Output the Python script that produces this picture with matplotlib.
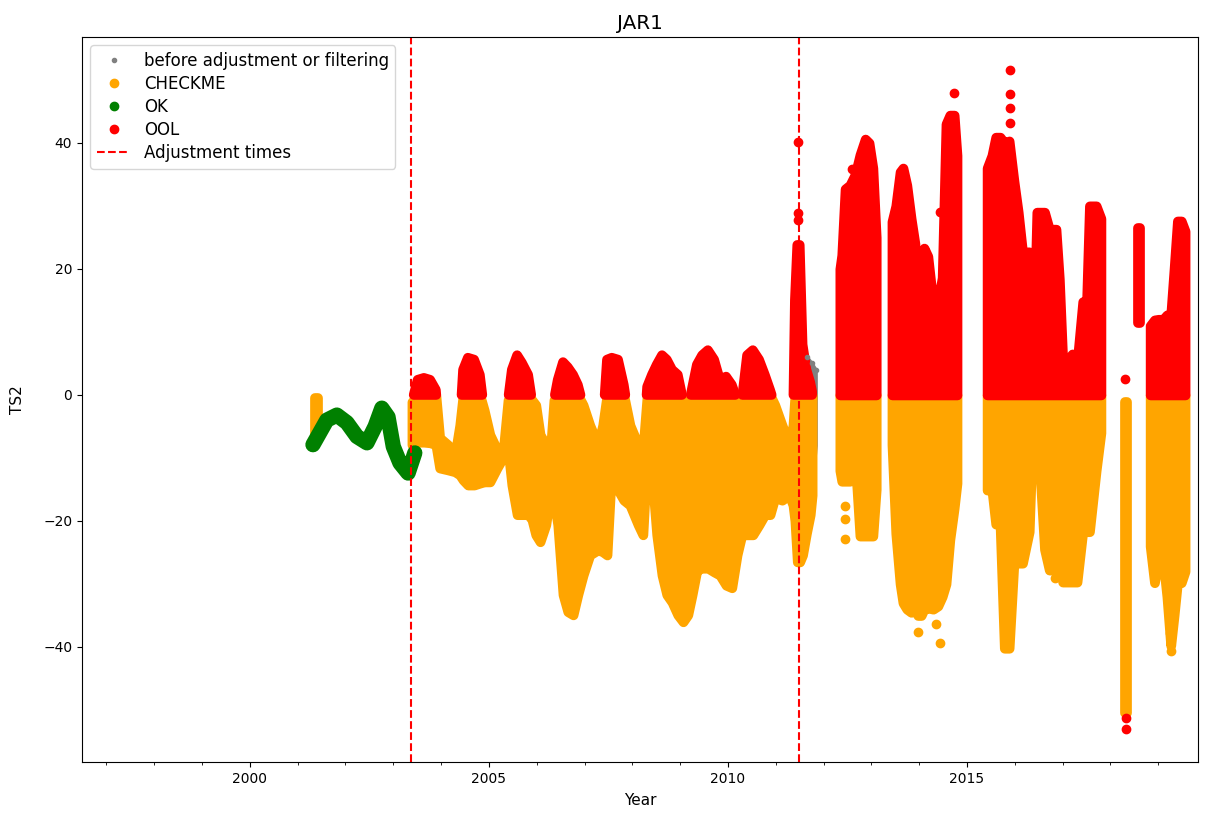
import numpy as np
import matplotlib.pyplot as plt
from matplotlib.ticker import MultipleLocator

# ---- values (decimal year, TS2) ----

# OK series (green), before first adjustment
green_year = [2001.32, 2001.61, 2001.82, 2002.03, 2002.24, 2002.45, 2002.62,
              2002.76, 2002.89, 2003.00, 2003.14, 2003.31, 2003.45]
green_val = [-7.9, -4.0, -3.2, -4.4, -6.6, -7.6, -5.0,
             -2.1, -3.5, -8.2, -10.8, -12.4, -9.2]

# envelopes of the dense clouds: (year, upper, lower); above 0 -> OOL, below -> CHECKME
b01_year = [2001.36, 2001.42]
b01_top = [-0.5, -0.5]
b01_bot = [-6.5, -6.5]

b03_year = [2003.39, 2003.51, 2003.64, 2003.77, 2003.89, 2003.97, 2004.14, 2004.29,
            2004.39, 2004.46, 2004.56, 2004.69, 2004.81, 2004.90, 2005.02, 2005.17,
            2005.29, 2005.40, 2005.48, 2005.59, 2005.69, 2005.82, 2005.90, 2005.98,
            2006.07, 2006.19, 2006.28, 2006.36, 2006.44, 2006.55, 2006.65, 2006.76,
            2006.86, 2006.97, 2007.11, 2007.28, 2007.38, 2007.47, 2007.57, 2007.70,
            2007.82, 2007.95, 2008.12, 2008.22, 2008.31, 2008.41, 2008.51, 2008.62,
            2008.72, 2008.83, 2008.95, 2009.06, 2009.16, 2009.25, 2009.35, 2009.46,
            2009.58, 2009.71, 2009.83, 2009.96, 2010.08, 2010.19, 2010.29, 2010.40,
            2010.52, 2010.65, 2010.77, 2010.88, 2010.98, 2011.13, 2011.28, 2011.36,
            2011.40, 2011.45, 2011.50, 2011.56, 2011.64, 2011.72, 2011.76]
b03_top = [-1.1, 2.4, 2.7, 2.4, 0.8, -6.8, -7.9, -9.5,
           -4.8, 4.0, 5.9, 5.6, 3.2, -2.4, -6.3, -8.7,
           -9.5, -0.8, 4.0, 6.3, 5.1, 3.2, -0.8, -1.6,
           -6.3, -7.9, -9.5, -0.8, 2.4, 5.2, 4.4, 3.2,
           1.6, -1.6, -4.8, -7.9, -4.8, 5.6, 5.9, 5.6,
           1.6, -4.8, -7.9, -8.7, 1.3, 3.2, 4.8, 6.3,
           5.6, 4.0, 3.2, -0.8, -2.4, 1.1, 4.8, 6.3,
           7.1, 5.6, 2.4, 2.9, 1.6, -0.8, -0.8, 6.3,
           7.1, 5.6, 3.2, 0.8, -1.6, -4.8, -7.9, -4.8,
           15.0, 23.8, 23.8, 8.0, 4.0, 2.0, 0.5]
b03_bot = [-7.9, -7.5, -7.5, -7.6, -7.9, -11.6, -11.9, -12.2,
           -12.7, -13.5, -14.3, -14.3, -14.0, -13.8, -13.8, -11.6,
           -10.0, -8.7, -14.3, -19.0, -19.0, -19.0, -19.8, -22.2,
           -23.3, -20.6, -15.9, -16.7, -20.6, -31.7, -34.4, -34.9,
           -31.7, -28.6, -25.4, -24.6, -24.9, -25.4, -11.1, -15.1,
           -16.7, -17.5, -20.6, -22.2, -9.5, -12.7, -22.2, -28.6,
           -31.7, -32.9, -34.9, -36.0, -34.9, -31.7, -27.8, -27.5,
           -27.5, -28.1, -28.6, -30.2, -30.6, -25.4, -22.2, -22.2,
           -22.2, -20.6, -19.0, -19.0, -16.3, -16.7, -15.9, -17.5,
           -20.0, -26.5, -26.5, -25.4, -22.0, -19.0, -15.9]

b12_year = [2012.34, 2012.38, 2012.45, 2012.55, 2012.66, 2012.76, 2012.87, 2012.95, 2013.03, 2013.10]
b12_top = [20.0, 22.2, 32.7, 33.3, 35.0, 38.1, 40.6, 40.0, 36.0, 25.0]
b12_bot = [-12.0, -13.7, -13.7, -13.7, -10.3, -22.4, -22.4, -22.4, -22.4, -15.0]

b13_year = [2013.43, 2013.51, 2013.60, 2013.66, 2013.74, 2013.83, 2013.91, 2013.97, 2014.04,
            2014.10, 2014.18, 2014.29, 2014.39, 2014.48, 2014.56, 2014.64, 2014.73, 2014.79]
b13_top = [27.5, 30.0, 35.4, 36.0, 33.3, 28.0, 24.0, 7.0, 7.0,
           23.3, 22.0, 14.5, 14.8, 18.6, 43.0, 44.4, 44.4, 38.0]
b13_bot = [-7.9, -22.0, -30.0, -33.0, -34.0, -34.5, -34.0, -35.0, -35.0,
           -34.0, -33.8, -34.0, -33.5, -32.0, -30.0, -23.0, -18.0, -14.0]

b15_year = [2015.42, 2015.52, 2015.60, 2015.69, 2015.78, 2015.88, 2015.98,
            2016.07, 2016.16, 2016.30, 2016.38, 2016.46, 2016.62, 2016.72, 2016.86, 2016.93,
            2017.00, 2017.12, 2017.20, 2017.30, 2017.42, 2017.50, 2017.56, 2017.70, 2017.80]
b15_top = [36.0, 38.0, 40.9, 40.9, 40.0, 40.3, 34.0,
           29.0, 22.7, 22.7, 5.0, 29.0, 29.0, 26.3, 26.3, 18.4,
           5.7, 5.7, 6.5, 5.0, 14.8, 14.8, 30.0, 30.0, 28.0]
b15_bot = [-15.1, -15.1, -20.5, -20.5, -40.2, -40.2, -26.7,
           -26.7, -26.7, -21.7, -4.0, -4.0, -24.5, -27.8, -27.8, -25.0,
           -29.7, -29.7, -29.7, -29.7, -21.7, -21.7, -21.7, -12.0, -6.0]

b18_year = [2018.31, 2018.35]
b18_top = [-1.2, -1.2]
b18_bot = [-50.5, -50.5]

b19_year = [2018.83, 2018.92, 2019.00, 2019.10, 2019.18, 2019.26, 2019.33, 2019.40, 2019.48, 2019.56]
b19_top = [11.0, 11.9, 12.0, 12.0, 12.7, 12.7, 20.0, 27.6, 27.6, 26.0]
b19_bot = [-24.0, -29.8, -26.3, -26.3, -32.0, -39.8, -35.0, -29.8, -29.8, -28.0]

# OOL run that floats above zero in 2018
float_year = [2018.57, 2018.61]
float_top = [26.5, 26.5]
float_bot = [11.4, 11.4]

# single points outside the clouds
red_pt_year = [2011.47, 2011.47, 2011.47, 2012.59, 2014.44, 2014.72,
               2015.89, 2015.89, 2015.89, 2015.89, 2018.31, 2018.33, 2018.33]
red_pt_val = [40.2, 28.8, 27.8, 35.9, 29.0, 47.9,
              51.5, 47.8, 45.6, 43.2, 2.6, -51.3, -53.0]
orange_pt_year = [2012.44, 2012.44, 2012.44, 2013.97, 2014.44, 2014.36, 2016.84, 2019.25, 2019.27]
orange_pt_val = [-17.6, -19.7, -22.9, -37.6, -39.4, -36.3, -29.0, -37.8, -40.6]

# raw values showing behind the 2011 adjustment
gray_year = [2011.66, 2011.76, 2011.84]
gray_top = [6.0, 5.0, 4.0]
gray_bot = [-17.0, -15.0, -8.0]

adjust_times = [2003.37, 2011.49]

blocks = [(b01_year, b01_top, b01_bot), (b03_year, b03_top, b03_bot),
          (b12_year, b12_top, b12_bot), (b13_year, b13_top, b13_bot),
          (b15_year, b15_top, b15_bot), (b18_year, b18_top, b18_bot),
          (b19_year, b19_top, b19_bot)]

fig, ax = plt.subplots(figsize=(12.08, 8.22), dpi=100)
fig.subplots_adjust(left=0.0679, right=0.9917, bottom=0.073, top=0.955)

# marker radius is reproduced by stroking the envelopes
cloud = dict(linewidth=7, joinstyle='round', capstyle='round')

ax.fill_between(gray_year, gray_bot, gray_top, color='gray', linewidth=2)
h_gray, = ax.plot(gray_year, gray_top, '.', color='gray', label='before adjustment or filtering')

for yr, top, bot in blocks:
    top = np.array(top)
    ax.fill_between(yr, bot, np.minimum(top, 0), color='orange', **cloud)
h_orange, = ax.plot(orange_pt_year, orange_pt_val, 'o', color='orange', label='CHECKME')

ax.plot(green_year, green_val, '-', color='green', lw=11,
        solid_capstyle='round', solid_joinstyle='round')
h_green, = ax.plot(green_year, green_val, 'o', color='green', label='OK')

for yr, top, bot in blocks:
    top = np.array(top)
    if (top > 0).any():
        ax.fill_between(yr, 0, top, where=top > 0, interpolate=True, color='red', **cloud)
ax.fill_between(float_year, float_bot, float_top, color='red', **cloud)
h_red, = ax.plot(red_pt_year, red_pt_val, 'o', color='red', label='OOL')

h_adj = ax.axvline(adjust_times[0], color='red', ls='--', label='Adjustment times')
for t in adjust_times[1:]:
    ax.axvline(t, color='red', ls='--')

ax.set_xlim(1996.49, 2019.83)
ax.set_ylim(-58.25, 56.8)
ax.xaxis.set_major_locator(MultipleLocator(5))
ax.xaxis.set_minor_locator(MultipleLocator(1))
ax.tick_params(labelsize=10)
ax.set_title('JAR1', fontsize=14.4)
ax.set_xlabel('Year', fontsize=11, labelpad=5)
ax.set_ylabel('TS2', fontsize=11, labelpad=13)
ax.legend(handles=[h_gray, h_orange, h_green, h_red, h_adj], loc='upper left',
          fontsize=12, labelspacing=0.3)

fig.savefig('out.png', dpi=100)
